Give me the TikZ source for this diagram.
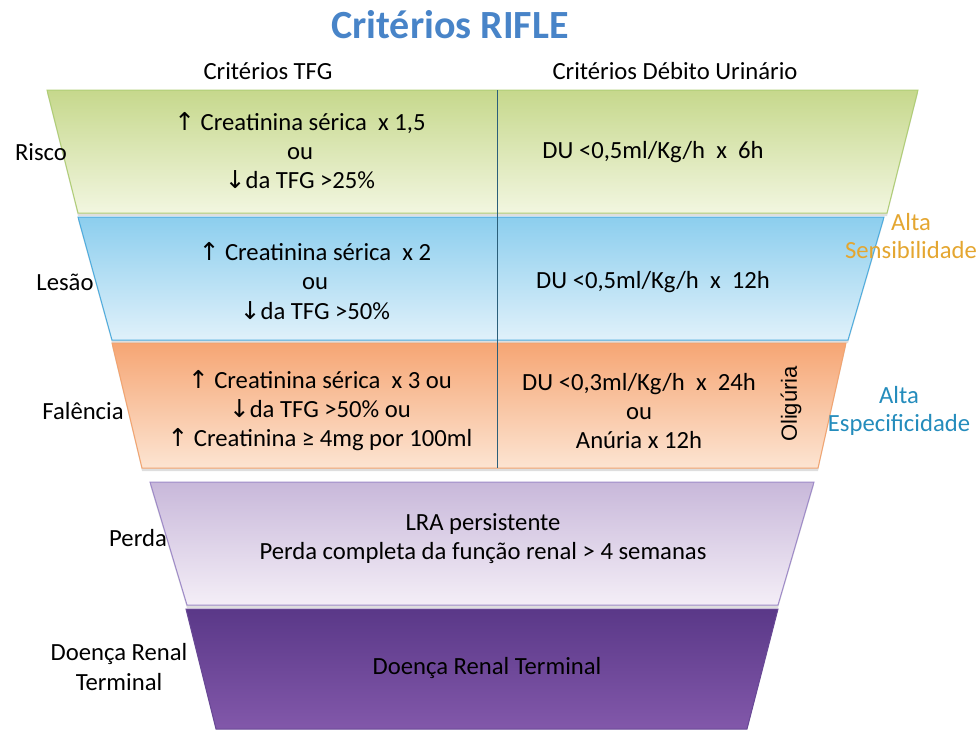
\documentclass[tikz,border=0pt]{standalone}
\usepackage{fontspec}
\setmainfont{Carlito}
\newfontfamily\symfont{DejaVu Sans}
\newfontfamily\arialfont{Liberation Sans}
\usetikzlibrary{positioning}

\definecolor{riscoTop}{RGB}{198,216,140}
\definecolor{riscoBot}{RGB}{242,246,224}
\definecolor{riscoLine}{RGB}{176,206,118}
\definecolor{lesaoTop}{RGB}{140,206,238}
\definecolor{lesaoBot}{RGB}{224,241,250}
\definecolor{lesaoLine}{RGB}{78,172,222}
\definecolor{falenciaTop}{RGB}{246,166,116}
\definecolor{falenciaBot}{RGB}{252,228,210}
\definecolor{falenciaLine}{RGB}{242,164,112}
\definecolor{perdaTop}{RGB}{200,184,218}
\definecolor{perdaBot}{RGB}{244,238,247}
\definecolor{perdaLine}{RGB}{158,138,200}
\definecolor{doencaTop}{RGB}{90,56,136}
\definecolor{doencaBot}{RGB}{130,88,170}
\definecolor{titleBlue}{RGB}{72,132,200}
\definecolor{sensOrange}{RGB}{228,166,48}
\definecolor{espBlue}{RGB}{36,140,188}

\tikzset{every picture/.style={line width=0.75pt}}
\tikzset{
  bandText/.style={font=\fontsize{18.5}{21.8}\selectfont, align=center, inner sep=0pt},
  sideText/.style={font=\fontsize{18.5}{21.8}\selectfont, align=center, inner sep=0pt},
  headText/.style={font=\fontsize{18.5}{21.8}\selectfont, inner sep=0pt},
  noteText/.style={font=\fontsize{18.5}{21}\selectfont, align=center, inner sep=0pt},
  bandShadow/.style={fill=black!13}
}
\newcommand{\up}{{\symfont\char"2191}}
\newcommand{\down}{{\symfont\char"2193}}

\begin{document}
\begin{tikzpicture}[x=0.75pt,y=0.75pt,yscale=-1,xscale=1]
	\path (0,0) rectangle (980,729);

	%Shadows
	\fill[bandShadow] (47,93) -- (918,93) -- (887,216) -- (78,216) -- cycle ;
	\fill[bandShadow] (78,220) -- (884,220) -- (848,343) -- (112,343) -- cycle ;
	\fill[bandShadow] (112,346) -- (846,346) -- (818,471) -- (142,471) -- cycle ;
	\fill[bandShadow] (150,485) -- (814,485) -- (778,608) -- (187,608) -- cycle ;

	%Shape: Trapezoid [Risco]
	\shade[draw=riscoLine, top color=riscoTop, bottom color=riscoBot] (47,90) -- (918,90) -- (887,213) -- (78,213) -- cycle ;
	%Shape: Trapezoid [Lesao]
	\shade[draw=lesaoLine, top color=lesaoTop, bottom color=lesaoBot] (78,217) -- (884,217) -- (848,340) -- (112,340) -- cycle ;
	%Shape: Trapezoid [Falencia]
	\shade[draw=falenciaLine, top color=falenciaTop, bottom color=falenciaBot] (112,343) -- (846,343) -- (818,468) -- (142,468) -- cycle ;
	%Shape: Trapezoid [Perda]
	\shade[draw=perdaLine, top color=perdaTop, bottom color=perdaBot] (150,482) -- (814,482) -- (778,605) -- (187,605) -- cycle ;
	%Shape: Trapezoid [Doenca]
	\shade[draw=doencaTop!80!perdaLine, top color=doencaTop, bottom color=doencaBot] (186,609) -- (778,609) -- (747,729) -- (216,729) -- cycle ;
	%Straight Lines [divider]
	\draw[color=black!45!lesaoLine, line width=0.6pt] (497,90) -- (497,468) ;

	% Text Node
	\draw (450,25) node (title) [font=\fontsize{30}{32}\bfseries, color=titleBlue] {Critérios RIFLE};
	% Text Node
	\draw (268,71) node (headTFG) [headText] {Critérios TFG};
	% Text Node
	\draw (675,71) node (headDU) [headText] {Critérios Débito Urinário};

	% Text Node
	\draw (41,152) node (risco) [sideText] {Risco};
	% Text Node
	\draw (65,282) node (lesao) [sideText] {Lesão};
	% Text Node
	\draw (83,411) node (falencia) [sideText] {Falência};
	% Text Node
	\draw (138,538) node (perda) [sideText] {Perda};
	% Text Node
	\draw (119,667) node (doenca) [sideText] {Doença Renal\\Terminal};

	% Text Node
	\draw (300,151) node (riscoTFG) [bandText] {\up\ Creatinina sérica\ \ x 1,5\\ou\\\down da TFG >25\%};
	% Text Node
	\draw (653,152) node (riscoDU) [bandText] {DU <0,5ml/Kg/h\ \ x\ \ 6h};
	% Text Node
	\draw (315,281) node (lesaoTFG) [bandText] {\up\ Creatinina sérica\ \ x 2\\ou\\\down da TFG >50\%};
	% Text Node
	\draw (653,282) node (lesaoDU) [bandText] {DU <0,5ml/Kg/h\ \ x\ \ 12h};
	% Text Node
	\draw (320,411) node (falenciaTFG) [bandText] {\up\ Creatinina sérica\ \ x 3 ou\\\down da TFG >50\% ou\\\up\ Creatinina ≥ 4mg por 100ml};
	% Text Node
	\draw (639,411) node (falenciaDU) [bandText] {DU <0,3ml/Kg/h\ \ x\ \ 24h\\ou\\Anúria x 12h};
	% Text Node
	\draw (791,404) node (oliguria) [rotate=90, font=\arialfont\fontsize{16.5}{18}\selectfont] {Oligúria};
	% Text Node
	\draw (483,539) node (perdaText) [bandText] {LRA persistente\\Perda completa da função renal > 4 semanas};
	% Text Node
	\draw (487,668) node (doencaText) [bandText] {Doença Renal Terminal};

	% Text Node
	\draw (911,236) node (sens) [noteText, color=sensOrange] {Alta\\Sensibilidade};
	% Text Node
	\draw (899,411) node (esp) [noteText, color=espBlue] {Alta\\Especificidade};

\end{tikzpicture}
\end{document}
